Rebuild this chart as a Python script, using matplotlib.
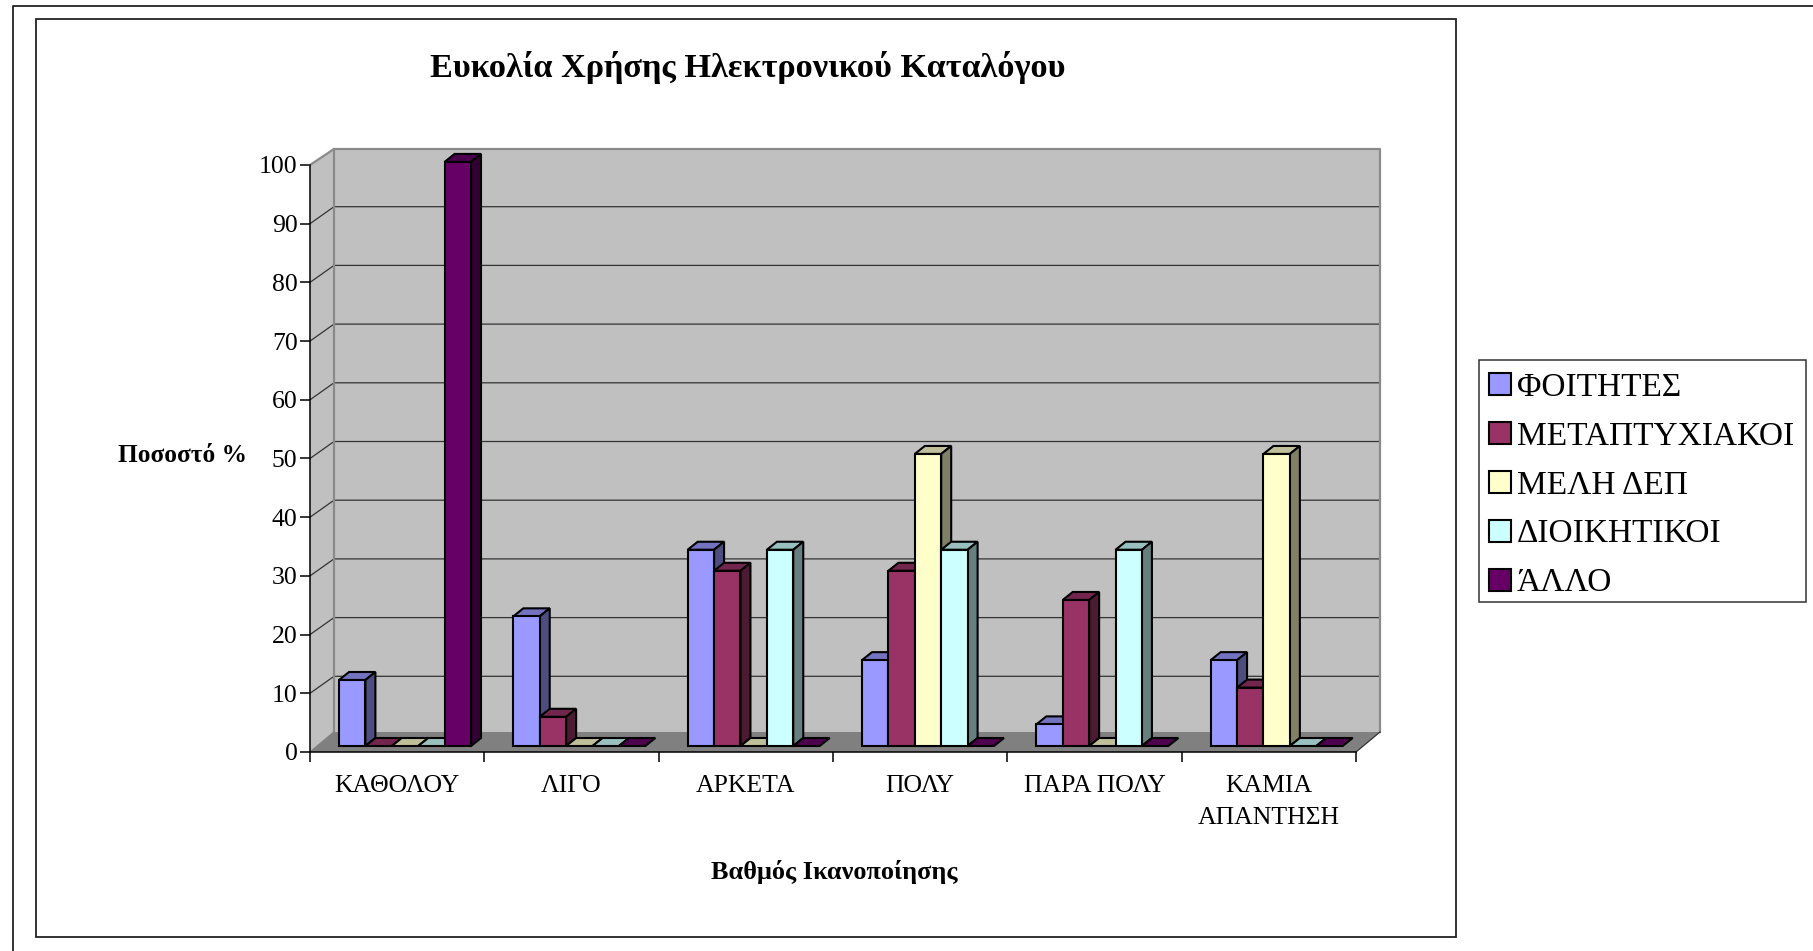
#!/usr/bin/env python3
"""Pseudo-3D clustered columns, old Excel style, drawn on a plain 2D axes."""

import matplotlib
matplotlib.use("Agg")
import matplotlib.pyplot as plt
from matplotlib.colors import to_rgb
from matplotlib.lines import Line2D
from matplotlib.patches import Patch, Polygon, Rectangle

W, H = 1813, 951

categories = ["ΚΑΘΟΛΟΥ", "ΛΙΓΟ", "ΑΡΚΕΤΑ", "ΠΟΛΥ", "ΠΑΡΑ ΠΟΛΥ", "ΚΑΜΙΑ\nΑΠΑΝΤΗΣΗ"]
series_names = ["ΦΟΙΤΗΤΕΣ", "ΜΕΤΑΠΤΥΧΙΑΚΟΙ", "ΜΕΛΗ ΔΕΠ", "ΔΙΟΙΚΗΤΙΚΟΙ", "ΆΛΛΟ"]
foitites = [11.3, 22.2, 33.6, 14.7, 3.7, 14.7]
metaptyxiakoi = [0, 5, 30, 30, 25, 10]
meli_dep = [0, 0, 0, 50, 0, 50]
dioikitikoi = [0, 0, 33.6, 33.6, 33.6, 0]
allo = [100, 0, 0, 0, 0, 0]
series = [foitites, metaptyxiakoi, meli_dep, dioikitikoi, allo]
colors = ["#9999FF", "#993366", "#FFFFCC", "#CCFFFF", "#660066"]
y_ticks = list(range(0, 101, 10))

plt.rcParams["font.family"] = ["Liberation Serif", "DejaVu Serif"]


def shade(color, factor):
    return tuple(c * factor for c in to_rgb(color))


def fig_x(px):
    return px / W


def fig_y(px):
    return 1 - px / H


fig = plt.figure(figsize=(W / 100, H / 100), dpi=100, facecolor="white")

# the two frames around the chart
fig.add_artist(Line2D([fig_x(13), fig_x(13), 1], [0, fig_y(6), fig_y(6)], color="#222222", lw=1.3))
fig.add_artist(Rectangle((fig_x(36), fig_y(937)), fig_x(1456 - 36), (937 - 19) / H,
                         fill=False, ec="#222222", lw=1.3))
# legend frame is separate so the entries can sit a little lower in it
fig.add_artist(Rectangle((fig_x(1479), fig_y(602)), (1806 - 1479) / W, (602 - 360) / H,
                         fill=False, ec="#333333", lw=1.1))

# front plane of the plot box
x0, x1, y_bottom, y_top = 310, 1356, 752, 165
ax = fig.add_axes([fig_x(x0), fig_y(y_bottom), (x1 - x0) / W, (y_bottom - y_top) / H])
ax.set_xlim(0, 6)
ax.set_ylim(0, 100)
ax.patch.set_visible(False)
px_x = 6 / (x1 - x0)
px_y = 100 / (y_bottom - y_top)

wall_dx, wall_dy = 24 * px_x, 17 * px_y
floor_dy = 20 * px_y
roof = 100 + 16 * px_y
wall_kw = dict(clip_on=False, zorder=1, lw=0)
ax.add_patch(Polygon([(wall_dx, floor_dy), (6 + wall_dx, floor_dy), (6 + wall_dx, roof),
                      (wall_dx, roof)], fc="#C0C0C0", **wall_kw))
ax.add_patch(Polygon([(0, 0), (wall_dx, floor_dy), (wall_dx, roof), (0, 100)],
                     fc="#C0C0C0", **wall_kw))
ax.add_patch(Polygon([(0, 0), (6, 0), (6 + wall_dx, floor_dy), (wall_dx, floor_dy)],
                     fc="#808080", **wall_kw))

for tick in y_ticks[1:-1]:
    ax.plot([0, wall_dx, 6 + wall_dx], [tick, tick + wall_dy, tick + wall_dy],
            color="#333333", lw=0.9, clip_on=False, zorder=2)
ax.plot([0, wall_dx, 6 + wall_dx, 6 + wall_dx], [100, roof, roof, floor_dy],
        color="#8A8A8A", lw=1.6, clip_on=False, zorder=2)
ax.plot([wall_dx, wall_dx], [floor_dy, roof], color="#8A8A8A", lw=1.6, clip_on=False, zorder=2)
ax.plot([0, wall_dx], [0, floor_dy], color="#808080", lw=1, clip_on=False, zorder=2)
ax.plot([6, 6 + wall_dx], [0, floor_dy], color="#333333", lw=0.9, clip_on=False, zorder=2)

# columns: front face through ax.bar, top and side faces follow its rectangle
bar_w = 26.4 * px_x
first_bar = 29 * px_x
base = 6 * px_y
bar_scale = 0.995
depth_x, depth_y = 10 * px_x, 8 * px_y
edge = dict(ec="black", lw=1.5, clip_on=False, joinstyle="miter")

for c in range(len(categories)):
    for s, values in enumerate(series):
        v = values[c] * bar_scale
        left = c + first_bar + s * bar_w
        right = left + bar_w
        top = base + v
        z = 3 + c * 10 + s
        col = colors[s]
        ax.add_patch(Polygon([(left, top), (right, top), (right + depth_x, top + depth_y),
                              (left + depth_x, top + depth_y)],
                             fc=shade(col, 0.75), zorder=z, **edge))
        if v > 0:
            ax.add_patch(Polygon([(right, base), (right + depth_x, base + depth_y),
                                  (right + depth_x, top + depth_y), (right, top)],
                                 fc=shade(col, 0.5), zorder=z, **edge))
            ax.bar(left, v, bar_w, bottom=base, align="edge", color=col, zorder=z + 0.5, **edge)

ax.set_xlim(0, 6)
ax.set_ylim(0, 100)
ax.spines[["top", "right"]].set_visible(False)
ax.spines[["left", "bottom"]].set_linewidth(1.1)
ax.set_yticks(y_ticks)
ax.tick_params(axis="y", length=7.5, width=1.1, labelsize=18.5, pad=1.5)
ax.set_xticks(range(7))
ax.set_xticklabels([])
ax.set_xticks([i + 0.5 for i in range(6)], categories, minor=True, linespacing=1.62)
ax.tick_params(axis="x", which="major", length=7.5, width=1.1)
ax.tick_params(axis="x", which="minor", length=0, labelsize=18.5, pad=16.5)
for label in ax.get_xticklabels(minor=True):
    label.set_verticalalignment("top")

fig.text(fig_x(748), fig_y(67.5), "Ευκολία Χρήσης Ηλεκτρονικού Καταλόγου",
         ha="center", va="center", fontsize=24.7, fontweight="bold")
fig.text(fig_x(182), fig_y(456), "Ποσοστό %", ha="center", va="center", fontsize=18.3, fontweight="bold")
fig.text(fig_x(834), fig_y(872), "Βαθμός Ικανοποίησης", ha="center", va="center", fontsize=18.9, fontweight="bold")

handles = [Patch(fc=c, ec="black", lw=1.5) for c in colors]
fig.legend(handles, series_names, loc="lower left",
           bbox_to_anchor=(fig_x(1479.5), fig_y(608)), bbox_transform=fig.transFigure,
           borderaxespad=0, fontsize=24, labelspacing=0.55, handlelength=0.65, handleheight=0.65,
           handletextpad=0.18, borderpad=0.29, frameon=False)

fig.savefig("out.png", dpi=100, facecolor="white")
plt.close(fig)
